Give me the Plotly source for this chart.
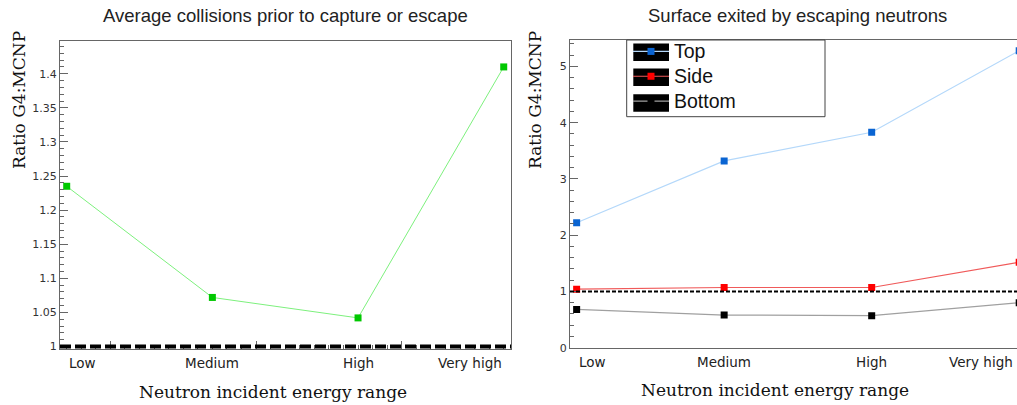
import plotly.graph_objects as go

# ---------------- data ----------------
categories = ["Low", "Medium", "High", "Very high"]
cat_pos = [0, 1, 2, 3]

collisions_ratio = [1.235, 1.072, 1.042, 1.41]

top_ratio = [2.22, 3.32, 3.83, 5.28]
side_ratio = [1.04, 1.07, 1.07, 1.52]
bottom_ratio = [0.68, 0.58, 0.57, 0.80]

series_names = ["Top", "Side", "Bottom"]

reference_value = 1.0

left_title = "Average collisions prior to capture or escape"
right_title = "Surface exited by escaping neutrons"
y_title = "Ratio G4:MCNP"
x_title = "Neutron incident energy range"

# ---------------- layout helpers ----------------
W, H = 1017, 405


def px(xp):
    return xp / W


def py(yp):
    return (H - yp) / H


def legend_label(name):
    return '<span style="font-size:19.5px">' + name + "</span>"


fig = go.Figure()

# Left panel
fig.add_trace(go.Scatter(
    x=cat_pos, y=collisions_ratio, mode="lines+markers",
    line=dict(color="#7df07d", width=1),
    marker=dict(symbol="square", size=7, color="#00c800"),
    xaxis="x", yaxis="y", showlegend=False, name="Collisions",
))

# Right panel
styles = [
    (dict(color="#b4d8fa", width=1.2), "#0a64d2"),
    (dict(color="#f05a5a", width=1.2), "#ff0000"),
    (dict(color="#a0a0a0", width=1.2), "#000000"),
]
for name, vals, (lstyle, mcol) in zip(series_names, [top_ratio, side_ratio, bottom_ratio], styles):
    fig.add_trace(go.Scatter(
        x=cat_pos, y=vals, mode="lines+markers", name=legend_label(name),
        line=lstyle,
        marker=dict(symbol="square", size=7, color=mcol),
        xaxis="x2", yaxis="y2",
    ))

tickfont = dict(family="DejaVu Sans", size=11, color="#333333")
axcol = "#666666"

fig.update_layout(
    width=W, height=H,
    margin=dict(l=0, r=0, t=0, b=0, autoexpand=False),
    paper_bgcolor="white", plot_bgcolor="white",
    xaxis=dict(
        domain=[px(60), px(511)], range=[-0.046, 3.05],
        showgrid=False, zeroline=False, showline=True, mirror=True,
        linecolor=axcol, linewidth=1,
        ticks="inside", ticklen=8, tickcolor=axcol, tick0=0.3, dtick=1,
        showticklabels=False,
        minor=dict(ticks="inside", ticklen=4, tickcolor=axcol, tick0=0.3, dtick=0.1),
    ),
    yaxis=dict(
        domain=[py(349), py(41)], range=[0.9964, 1.448],
        showgrid=False, zeroline=False, showline=True, mirror=True,
        linecolor=axcol, linewidth=1,
        ticks="inside", ticklen=8, tickcolor=axcol, tick0=1.0, dtick=0.05,
        tickfont=tickfont, tickformat="~g",
        minor=dict(ticks="inside", ticklen=4, tickcolor=axcol, dtick=0.01),
    ),
    xaxis2=dict(
        domain=[px(570), 1.0], range=[-0.045, 2.985], anchor="y2",
        showgrid=False, zeroline=False, showline=True, mirror=True,
        linecolor=axcol, linewidth=1, ticks="", showticklabels=False,
    ),
    yaxis2=dict(
        domain=[py(347.7), py(40)], range=[0, 5.47], anchor="x2",
        showgrid=False, zeroline=False, showline=True, mirror=False,
        linecolor=axcol, linewidth=1,
        ticks="inside", ticklen=8, tickcolor=axcol, tick0=0, dtick=1,
        tickfont=tickfont,
        minor=dict(ticks="inside", ticklen=4, tickcolor=axcol, dtick=0.2),
    ),
    legend=dict(
        x=px(628), y=py(34), xanchor="left", yanchor="top",
        bgcolor="rgba(0,0,0,0)", borderwidth=0,
        font=dict(family="Liberation Sans", size=16.8, color="#111111"),
        tracegroupgap=0, itemwidth=36,
    ),
)

# reference lines at ratio = 1
fig.add_shape(type="line", xref="x domain", yref="y", x0=0, x1=1,
              y0=reference_value, y1=reference_value,
              line=dict(color="black", width=4, dash="11px,4px"))
fig.add_shape(type="line", xref="x2 domain", yref="y2", x0=0, x1=1,
              y0=reference_value, y1=reference_value,
              line=dict(color="black", width=2, dash="4px,2px"))

# legend box and ROOT-style black symbol boxes
fig.add_shape(type="rect", xref="paper", yref="paper",
              x0=px(626.7), x1=px(825), y0=py(116.7), y1=py(40),
              line=dict(color="#444444", width=1), fillcolor="white", layer="above")
for yc in [52.2, 77.2, 103.0]:
    fig.add_shape(type="rect", xref="paper", yref="paper",
                  x0=px(633.3), x1=px(669), y0=py(yc + 8.75), y1=py(yc - 8.75),
                  line=dict(width=0), fillcolor="black", layer="above")

ann = []
title_font = dict(family="Liberation Sans", size=18.5, color="#222222")
ann.append(dict(text=left_title, x=px(285), y=py(15), xref="paper", yref="paper",
                showarrow=False, font=title_font, xanchor="center", yanchor="middle"))
ann.append(dict(text=right_title, x=px(797), y=py(15), xref="paper", yref="paper",
                showarrow=False, font=title_font, xanchor="center", yanchor="middle"))

serif = dict(family="DejaVu Serif", size=17, color="#111111")
for xc in [19, 535]:
    ann.append(dict(text=y_title, x=px(xc), y=py(100), xref="paper", yref="paper",
                    textangle=-90, showarrow=False, font=serif,
                    xanchor="center", yanchor="middle"))
ann.append(dict(text=x_title, x=px(272.5), y=py(391.5), xref="paper", yref="paper",
                showarrow=False, font=serif, xanchor="center", yanchor="middle"))
ann.append(dict(text=x_title, x=px(775), y=py(390), xref="paper", yref="paper",
                showarrow=False, font=serif, xanchor="center", yanchor="middle"))

catfont = dict(family="DejaVu Sans", size=13.5, color="#222222")
anchors = ["left", "center", "center", "right"]
# left panel category labels
for c, p, a in zip(categories, cat_pos, anchors):
    ann.append(dict(text=c, x=p, y=py(363), xref="x", yref="paper",
                    showarrow=False, font=catfont, xanchor=a, yanchor="middle"))
# right panel category labels
for c, p in zip(categories[:3], cat_pos[:3]):
    ann.append(dict(text=c, x=p, y=py(361.7), xref="x2", yref="paper",
                    showarrow=False, font=catfont,
                    xanchor="left" if p == 0 else "center", yanchor="middle"))
ann.append(dict(text=categories[3], x=px(1015), y=py(361.7), xref="paper", yref="paper",
                showarrow=False, font=catfont, xanchor="right", yanchor="middle"))

fig.update_layout(annotations=ann)

fig.write_html("out.html",
               config={"displayModeBar": False},
               post_script="document.body.style.margin='0px';document.body.style.overflow='hidden';")
